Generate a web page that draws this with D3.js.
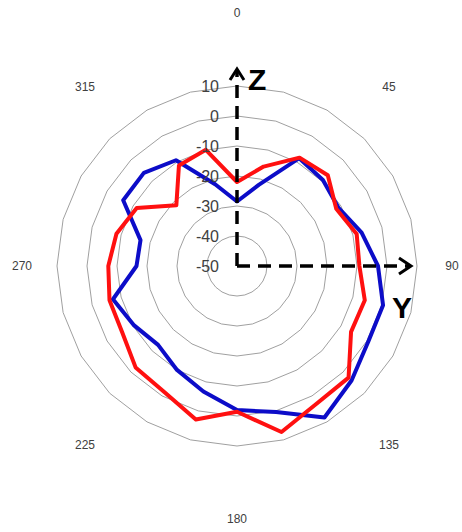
<!DOCTYPE html>
<html>
<head>
<meta charset="utf-8">
<script src="https://cdn.jsdelivr.net/npm/d3@7"></script>
<style>
  body { margin: 0; background: #fff; }
  svg { display: block; }
</style>
</head>
<body>
<div id="chart"></div>
<script>
// radar categories, one every 15 degrees
const angles = d3.range(0, 360, 15);
const angleLabels = [0, 45, 90, 135, 180, 225, 270, 315];
const radialTicks = [-50, -40, -30, -20, -10, 0, 10];

const blueValues = [-28.5, -22, -8.5, -9.5, -11, -7, -3, 0.4, 0.5, 4, 8.3, 0.4,
  -2, -6.7, -10, -12.8, -10.4, -7.2, -16.5, -16.7, -6.2, -6.1, -9.3, -21.8];
const redValues = [-22, -15.7, -8.3, -7.2, -11.8, -8.7, -9.2, -5.9, -6.1, 2.6, 3, 7.3,
  -1.4, 3, -1.5, -2.2, -5.8, -6, -7.1, -8.4, -11.4, -21.4, -11.3, -9.9];

const width = 462, height = 532;
const cx = 237, cy = 266;

const svg = d3.select("#chart").append("svg")
  .attr("width", width)
  .attr("height", height);

const g = svg.append("g").attr("transform", `translate(${cx},${cy})`);

const r = d3.scaleLinear().domain([-50, 10]).range([0, 180]);
const a = d3.scaleLinear().domain([0, 360]).range([0, 2 * Math.PI]);

const pt = (deg, v) => [Math.sin(a(deg)) * r(v), -Math.cos(a(deg)) * r(v)];

// grid rings (polygons, like Excel radar)
g.selectAll(".ring")
  .data(radialTicks.filter((d) => d > -50))
  .enter()
  .append("polygon")
  .attr("class", "ring")
  .attr("points", (v) => angles.map((deg) => pt(deg, v).join(",")).join(" "))
  .attr("fill", "none")
  .attr("stroke", "#a0a0a0")
  .attr("stroke-width", 1);

// series
const line = d3.lineRadial()
  .angle((d, i) => a(angles[i]))
  .radius((d) => r(d))
  .curve(d3.curveLinearClosed);

g.append("path")
  .attr("d", line(blueValues))
  .attr("fill", "none")
  .attr("stroke", "#0c0cc8")
  .attr("stroke-width", 4)
  .attr("stroke-linejoin", "round");

g.append("path")
  .attr("d", line(redValues))
  .attr("fill", "none")
  .attr("stroke", "#ff1010")
  .attr("stroke-width", 4)
  .attr("stroke-linejoin", "round");

// radial tick labels
g.selectAll(".rtick")
  .data(radialTicks)
  .enter()
  .append("text")
  .attr("class", "rtick")
  .attr("x", -18)
  .attr("y", (v) => -r(v))
  .attr("dy", "0.36em")
  .attr("text-anchor", "end")
  .style("font-family", "'Liberation Sans', Arial, sans-serif")
  .style("font-size", "16px")
  .style("fill", "#404040")
  .text((d) => d);

// angle labels on an ellipse around the plot
g.selectAll(".alabel")
  .data(angleLabels)
  .enter()
  .append("text")
  .attr("class", "alabel")
  .attr("x", (d) => Math.sin(a(d)) * 215)
  .attr("y", (d) => -Math.cos(a(d)) * 253)
  .attr("dy", "0.36em")
  .attr("text-anchor", "middle")
  .style("font-family", "'Liberation Sans', Arial, sans-serif")
  .style("font-size", "12px")
  .style("fill", "#404040")
  .text((d) => d);

// Y / Z axes arrows
const axes = g.append("g")
  .attr("stroke", "#000")
  .attr("stroke-width", 3.5)
  .attr("fill", "none");

axes.append("line")
  .attr("x1", 0).attr("y1", 0)
  .attr("x2", 0).attr("y2", -196)
  .attr("stroke-dasharray", "13,8");
axes.append("polyline")
  .attr("points", "-7,-186 0,-197 7,-186")
  .attr("stroke-width", 3);

axes.append("line")
  .attr("x1", 0).attr("y1", 0)
  .attr("x2", 173).attr("y2", 0)
  .attr("stroke-dasharray", "13,8");
axes.append("polyline")
  .attr("points", "162,-8 174,0 162,8")
  .attr("stroke-width", 3);

g.append("text")
  .attr("x", 11).attr("y", -176)
  .style("font-family", "'Liberation Sans', Arial, sans-serif")
  .style("font-size", "30px")
  .style("font-weight", "bold")
  .text("Z");

g.append("text")
  .attr("x", 155).attr("y", 52)
  .style("font-family", "'Liberation Sans', Arial, sans-serif")
  .style("font-size", "30px")
  .style("font-weight", "bold")
  .text("Y");
</script>
</body>
</html>
